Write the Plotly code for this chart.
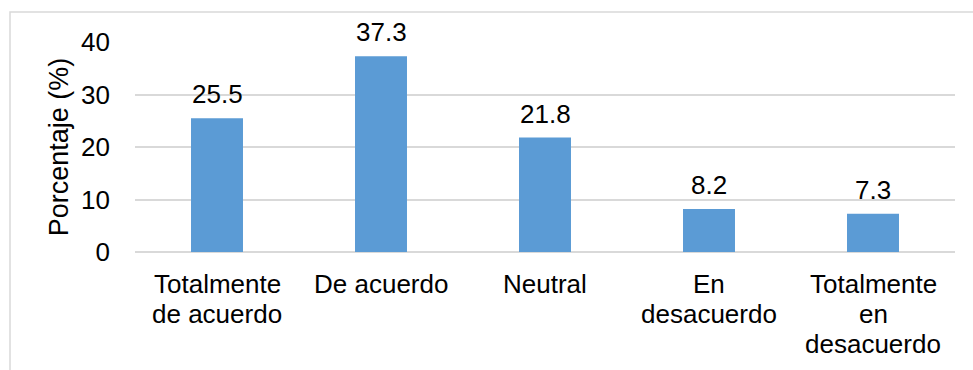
import plotly.graph_objects as go

categories = ["Totalmente de acuerdo", "De acuerdo", "Neutral", "En desacuerdo", "Totalmente en desacuerdo"]
category_lines = [["Totalmente", "de acuerdo"], ["De acuerdo"], ["Neutral"], ["En", "desacuerdo"], ["Totalmente", "en", "desacuerdo"]]
values = [25.5, 37.3, 21.8, 8.2, 7.3]
labels = ["25.5", "37.3", "21.8", "8.2", "7.3"]
y_ticks = [0, 10, 20, 30, 40]

FONT = "Liberation Sans, Arial, sans-serif"
W, H = 973, 370
ML, MR, MT, MB = 135, 18, 42, 118
FS = 26

fig = go.Figure()
fig.add_trace(go.Bar(
    x=categories, y=values,
    marker=dict(color="#5b9bd5", line=dict(width=0)),
    hoverinfo="skip",
))

for c, v, t in zip(categories, values, labels):
    fig.add_annotation(x=c, y=v, text=t, showarrow=False, yanchor="bottom",
                       yshift=7, font=dict(family=FONT, size=FS, color="#000"))

LINE_H = 30
for c, lines in zip(categories, category_lines):
    for i, ln in enumerate(lines):
        fig.add_annotation(x=c, y=0, text=ln, showarrow=False, yanchor="middle",
                           yshift=-(32 + i * LINE_H),
                           font=dict(family=FONT, size=FS, color="#000"))

pw = W - ML - MR
ph = H - MT - MB
fig.add_shape(type="rect", xref="paper", yref="paper",
              x0=(10 - ML) / pw, x1=(W + 20 - ML) / pw,
              y0=-(H + 20 - MT - ph) / ph, y1=(H - 12 - MB) / ph,
              line=dict(color="#d9d9d9", width=1.5), fillcolor="rgba(0,0,0,0)", layer="below")

fig.update_layout(
    width=W, height=H,
    margin=dict(l=ML, r=MR, t=MT, b=MB),
    paper_bgcolor="white", plot_bgcolor="white",
    bargap=0.683,
    showlegend=False,
    font=dict(family=FONT, size=FS, color="#000"),
    xaxis=dict(showgrid=False, showline=False, ticks="", showticklabels=False, fixedrange=True),
    yaxis=dict(range=[0, 40], tickvals=y_ticks, showgrid=True, gridcolor="#d9d9d9",
               gridwidth=1.5, zeroline=True, zerolinecolor="#d9d9d9", zerolinewidth=1.5,
               showline=False, ticks="", tickfont=dict(size=FS), ticklabelstandoff=24,
               title=dict(text="Porcentaje (%)", font=dict(size=27), standoff=4),
               fixedrange=True),
)

fig.write_html("out.html", config={"displayModeBar": False})
